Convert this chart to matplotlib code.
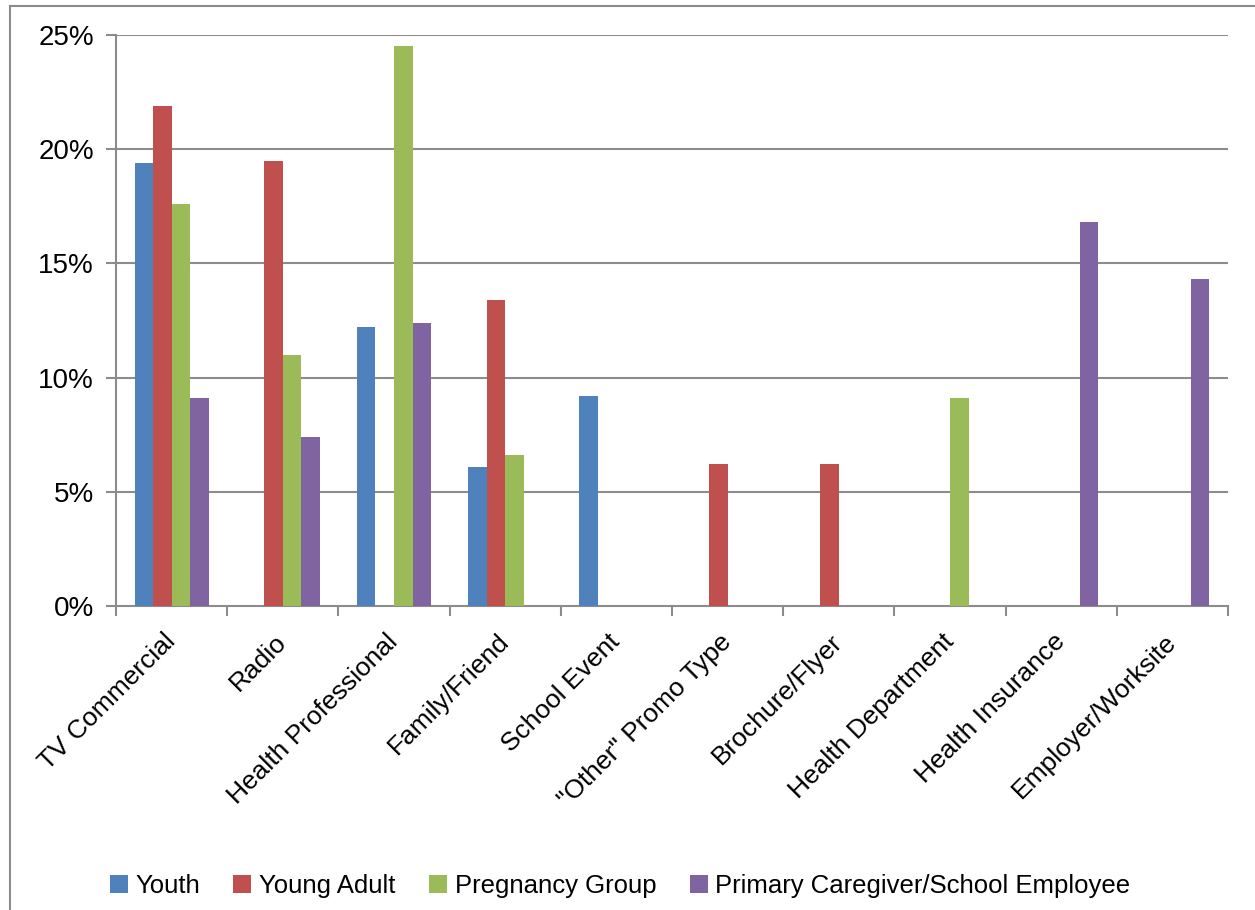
import matplotlib
matplotlib.use("Agg")
import matplotlib.pyplot as plt
from matplotlib.lines import Line2D
from matplotlib.patches import Patch
import numpy as np

plt.rcParams['font.family'] = ['Liberation Sans', 'DejaVu Sans']

categories = ["TV Commercial", "Radio", "Health Professional", "Family/Friend",
              "School Event", "\"Other\" Promo Type", "Brochure/Flyer",
              "Health Department", "Health Insurance", "Employer/Worksite"]
series_names = ["Youth", "Young Adult", "Pregnancy Group",
                "Primary Caregiver/School Employee"]
youth = [19.4, 0, 12.2, 6.1, 9.2, 0, 0, 0, 0, 0]
young_adult = [21.9, 19.5, 0, 13.4, 0, 6.2, 6.2, 0, 0, 0]
pregnancy = [17.6, 11.0, 24.5, 6.6, 0, 0, 0, 9.1, 0, 0]
caregiver = [9.1, 7.4, 12.4, 0, 0, 0, 0, 0, 16.8, 14.3]
y_ticks = [0, 5, 10, 15, 20, 25]
y_tick_labels = ["0%", "5%", "10%", "15%", "20%", "25%"]

colors = ["#4F81BD", "#C0504D", "#9BBB59", "#8064A2"]
series = [youth, young_adult, pregnancy, caregiver]

W, H = 1255, 910
fig = plt.figure(figsize=(W / 100, H / 100), dpi=100)
ax = fig.add_axes([116 / W, 1 - 606 / H, (1228 - 116) / W, (606 - 35) / H])

x = np.arange(len(categories))
bw = 1 / 6
for i, (vals, c) in enumerate(zip(series, colors)):
    ax.bar(x + (i - 1.5) * bw, vals, width=bw, color=c, zorder=3)

ax.set_xlim(-0.5, len(categories) - 0.5)
ax.set_ylim(0, 25)
grid_c = "#8C8C8C"
ax.set_yticks(y_ticks)
ax.set_yticklabels(y_tick_labels, fontsize=20)
for yv in y_ticks[1:]:
    ax.axhline(yv, color=grid_c, lw=1.5, zorder=1)

ax.set_xticks(np.arange(-0.5, len(categories) + 0.5, 1))
ax.set_xticklabels([])
ax.set_xticks(x, minor=True)
ax.set_xticklabels(categories, minor=True, fontsize=19, rotation=45,
                   ha='right', va='center', rotation_mode='anchor')
ax.tick_params(axis='x', which='minor', length=0, pad=23)
ax.tick_params(axis='x', which='major', length=7, width=1.5, color=grid_c)
ax.tick_params(axis='y', length=7, width=1.5, color=grid_c, pad=9)

for s in ['top', 'right']:
    ax.spines[s].set_visible(False)
for s in ['left', 'bottom']:
    ax.spines[s].set_color(grid_c)
    ax.spines[s].set_linewidth(1.5)

# chart border
fig.add_artist(Line2D([10 / W, 10 / W], [0, 1 - 6 / H], transform=fig.transFigure,
                      color="#8C8C8C", lw=1.5))
fig.add_artist(Line2D([10 / W, 1], [1 - 6 / H, 1 - 6 / H], transform=fig.transFigure,
                      color="#8C8C8C", lw=1.5))

handles = [Patch(facecolor=c, edgecolor='none') for c in colors]
fig.legend(handles, series_names, loc='center', bbox_to_anchor=(620 / W, 1 - 886 / H),
           ncol=4, frameon=False, fontsize=18.5, handlelength=0.7, handleheight=0.7,
           handletextpad=0.3, columnspacing=1.3)

fig.savefig("out.png", dpi=100)
